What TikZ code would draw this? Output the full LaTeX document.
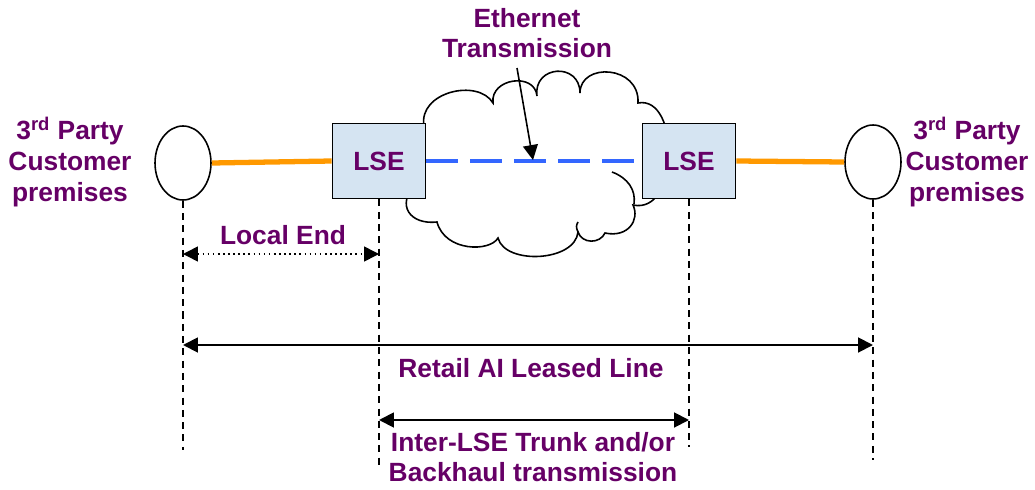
\documentclass[tikz,border=0pt]{standalone}
\usepackage{fontspec}
\setmainfont{Liberation Sans}
\usetikzlibrary{shapes.geometric,arrows.meta}
\definecolor{lbl}{HTML}{660066}
\definecolor{boxfill}{HTML}{D5E4F2}
\definecolor{orangeline}{HTML}{FF9900}
\definecolor{blueline}{HTML}{3366FF}
\begin{document}
\begin{tikzpicture}[x=0.02cm,y=-0.02cm,
  lbltxt/.style={text=lbl, font=\fontsize{15}{17.5}\selectfont\bfseries, align=center, inner sep=1pt},
  site/.style={ellipse, draw, line width=0.9pt, minimum width=1.12cm, minimum height=1.48cm, inner sep=0pt, fill=white},
  lse/.style={rectangle, draw, line width=1.1pt, fill=boxfill, minimum width=1.86cm, minimum height=1.5cm, lbltxt},
  guide/.style={line width=0.8pt, dash pattern=on 4pt off 3pt},
  tipA/.tip={Triangle[length=8.5pt,width=8.5pt]},
  dim/.style={line width=1.1pt, tipA-tipA},
  localdim/.style={line width=0.9pt, dotted, tipA-tipA},
  access/.style={orangeline, line width=3pt},
  ether/.style={blueline, line width=2.2pt, dash pattern=on 18pt off 7pt},
  pointer/.style={line width=0.9pt, -tipA},
  cloudline/.style={line width=0.9pt}]
\useasboundingbox (0,0) rectangle (1035,490);

% cloud behind everything
\draw[cloudline, fill=white]
  (424,126) .. controls (418,92) and (478,78) .. (493,103)
  .. controls (490,78) and (535,72) .. (537,96)
  .. controls (533,65) and (580,62) .. (580,93)
  .. controls (580,62) and (640,65) .. (638,103)
  .. controls (680,95) and (680,215) .. (633,205)
  .. controls (640,220) and (628,238) .. (605,233)
  .. controls (600,244) and (582,244) .. (578,232)
  .. controls (575,262) and (505,265) .. (498,238)
  .. controls (490,252) and (445,252) .. (437,222)
  .. controls (410,225) and (396,205) .. (415,185)
  .. controls (400,160) and (410,130) .. (424,126) -- cycle;
\draw[cloudline] (612,172) .. controls (628,178) and (636,190) .. (634,204);
\draw[cloudline] (578,232) .. controls (576,228) and (576,225) .. (578,222);

% sites and switches
\node[site] (c1) at (183,163) {};
\node[site] (c2) at (873,162) {};
\node[lse] (l1) at (379,161) {LSE};
\node[lse] (l2) at (689,161) {LSE};

% links
\draw[access] (c1.east) -- (l1.west);
\draw[access] (l2.east) -- (c2.west);
\draw[ether] (l1.east) -- (l2.west);

% labels
\node[lbltxt] (p1) at (70,162) {3\textsuperscript{rd} Party\\Customer\\premises};
\node[lbltxt] (p2) at (967,162) {3\textsuperscript{rd} Party\\Customer\\premises};
\node[lbltxt] (eth) at (527,33) {Ethernet\\Transmission};
\coordinate (ethfrom) at (517,68);
\coordinate (ethtip) at (533,160);
\draw[pointer] (ethfrom) -- (ethtip);

% guide lines
\coordinate (g1) at (183,450);
\coordinate (g2) at (379,465);
\coordinate (g3) at (689,447);
\coordinate (g4) at (873,460);
\draw[guide] (c1.south) -- (g1);
\draw[guide] (l1.south) -- (g2);
\draw[guide] (l2.south) -- (g3);
\draw[guide] (c2.south) -- (g4);

% dimension arrows
\draw[localdim] (c1.south |- 0,254) -- (l1.south |- 0,254);
\node[lbltxt] (le) at (283,235) {Local End};
\draw[dim] (c1.south |- 0,345) -- (c2.south |- 0,345);
\node[lbltxt] (retail) at (531,368) {Retail AI Leased Line};
\draw[dim] (l1.south |- 0,420) -- (l2.south |- 0,420);
\node[lbltxt] (trunk) at (533,457) {Inter-LSE Trunk and/or\\Backhaul transmission};
\end{tikzpicture}
\end{document}
